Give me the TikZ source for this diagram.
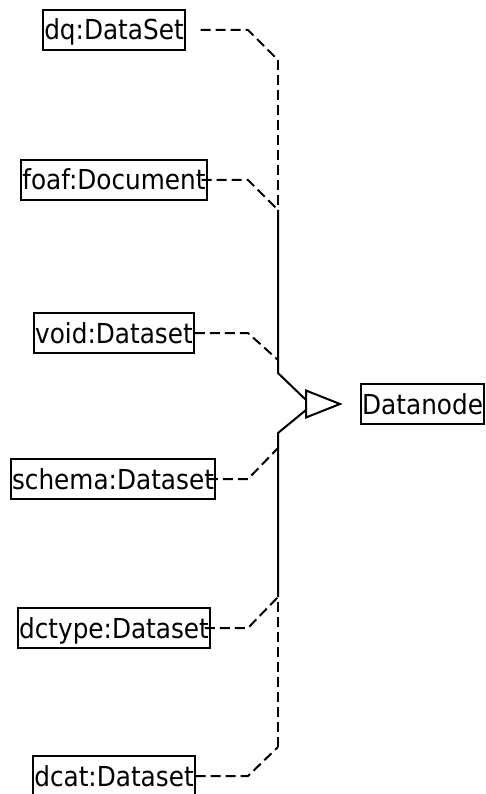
\documentclass[tikz,border=0pt]{standalone}
\usepackage{fontspec}
\setmainfont{DejaVu Sans Condensed}
\usetikzlibrary{calc}
\begin{document}
\begin{tikzpicture}[x=1pt,y=-1pt,line width=2pt,
	cls/.style={draw,font=\fontsize{27.5}{31}\selectfont,inner xsep=1pt,inner ysep=0pt,minimum height=40pt,text height=20pt,text depth=0pt},
	link/.style={dash pattern=on 10pt off 5pt}]
		\useasboundingbox (0,0) rectangle (486,794);
		\node[cls] (dq) at (114,30) {dq:DataSet};
		\node[cls] (foaf) at (114,180) {foaf:Document};
		\node[cls] (void) at (114,333) {void:Dataset};
		\node[cls] (schema) at (113,479) {schema:Dataset};
		\node[cls] (dctype) at (114,628) {dctype:Dataset};
		\node[cls] (dcat) at (114,776) {dcat:Dataset};
		\node[cls,anchor=east] (datanode) at (485,404) {Datanode};
		\coordinate (gen) at (306,404);
		\draw (gen) ++(0,-13.5) -- ++(34,13.5) -- ++(-34,13.5) -- cycle;
		\coordinate (jdq) at (278,60);
		\coordinate (jfoaf) at (278,210);
		\coordinate (jvoid) at (278,360);
		\coordinate (jschema) at (278,448);
		\coordinate (jdctype) at (278,597);
		\coordinate (jdcat) at (278,747);
		\draw[link] ([xshift=15pt]dq.east) -- ($(dq.east -| jdq)+(-30,0)$) -- (jdq);
		\draw[link] ([xshift=-6pt]foaf.east) -- ($(foaf.east -| jfoaf)+(-30,0)$) -- (jfoaf);
		\draw[link] (void.east) -- ($(void.east -| jvoid)+(-30,0)$) -- (jvoid);
		\draw[link] ([xshift=-8pt]schema.east) -- ($(schema.east -| jschema)+(-30,0)$) -- (jschema);
		\draw[link] ([xshift=-6pt]dctype.east) -- ($(dctype.east -| jdctype)+(-30,0)$) -- (jdctype);
		\draw[link] (dcat.east) -- ($(dcat.east -| jdcat)+(-30,0)$) -- (jdcat);
		\draw[link] (jdq) -- (jfoaf);
		\draw (jfoaf) -- (278,373) -- ($(gen)+(0,-4)$);
		\draw[link] (jdcat) -- (jdctype);
		\draw (jdctype) -- (278,433) -- ($(gen)+(0,6)$);
\end{tikzpicture}
\end{document}
